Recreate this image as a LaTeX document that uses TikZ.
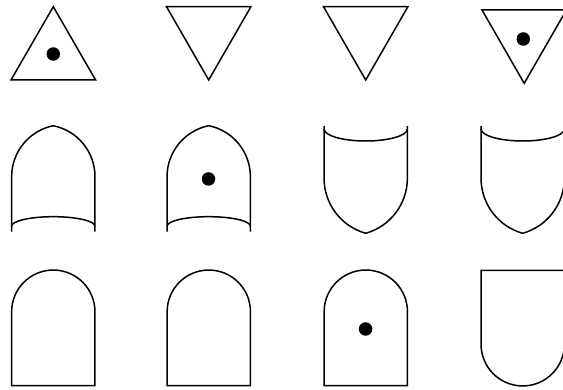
\documentclass[tikz,border=0pt]{standalone}
\begin{document}
\begin{tikzpicture}[x=1pt,y=1pt,
  shape line/.style={line width=1.5pt, draw=black},
  dotmark/.style={circle, fill=black, minimum size=13.5pt, inner sep=0pt},
  triup/.pic={\draw[shape line] (-42.3,0) -- (42.3,0) -- (0,73.3) -- cycle;},
  tridown/.pic={\draw[shape line] (-42.2,0) -- (42.2,0) -- (0,-73.3) -- cycle;},
  gothic/.pic={
    \draw[shape line] (-41.65,-55) -- (-41.65,0)
      arc[start angle=180,end angle=101.5,radius=52.05]
      arc[start angle=78.5,end angle=0,radius=52.05] -- (41.65,-55);
    \draw[shape line] (-41.65,-49.5) arc[start angle=180,end angle=0,x radius=41.65,y radius=9.5];
  },
  shield/.pic={
    \draw[shape line] (-41.65,52.3) -- (-41.65,0)
      arc[start angle=180,end angle=254.27,radius=57.14]
      arc[start angle=285.73,end angle=360,radius=57.14] -- (41.65,52.3);
    \draw[shape line] (-41.65,49.3) arc[start angle=180,end angle=360,x radius=41.65,y radius=12];
  },
  roundarch/.pic={
    \draw[shape line] (-41.65,-74) -- (-41.65,0)
      arc[start angle=180,end angle=0,radius=41.65] -- (41.65,-74) -- cycle;
  },
  ushape/.pic={
    \draw[shape line] (41.65,74) -- (-41.65,74) -- (-41.65,0)
      arc[start angle=180,end angle=360,radius=41.65] -- cycle;
  }
]
\useasboundingbox (0,0) rectangle (563,390);
\clip (0,0) rectangle (563,390);
% row 1: triangles
\pic at (53.3,310) {triup};
\node[dotmark] (d1) at (53.3,336) {};
\pic at (208.7,383.3) {tridown};
\pic at (365.7,383.3) {tridown};
\pic at (524.2,380) {tridown};
\node[dotmark] (d2) at (523.3,351) {};
% row 2: gothic arches and shields
\pic at (53.3,213.3) {gothic};
\pic at (208.7,213.3) {gothic};
\node[dotmark] (d3) at (208.5,211) {};
\pic at (365.7,211.7) {shield};
\pic at (522.7,211.7) {shield};
% row 3: round arches and U
\pic at (53.3,78.3) {roundarch};
\pic at (208.8,78.3) {roundarch};
\pic at (365.8,78.3) {roundarch};
\node[dotmark] (d4) at (365.6,61) {};
\pic at (522.7,45.7) {ushape};
\end{tikzpicture}
\end{document}
